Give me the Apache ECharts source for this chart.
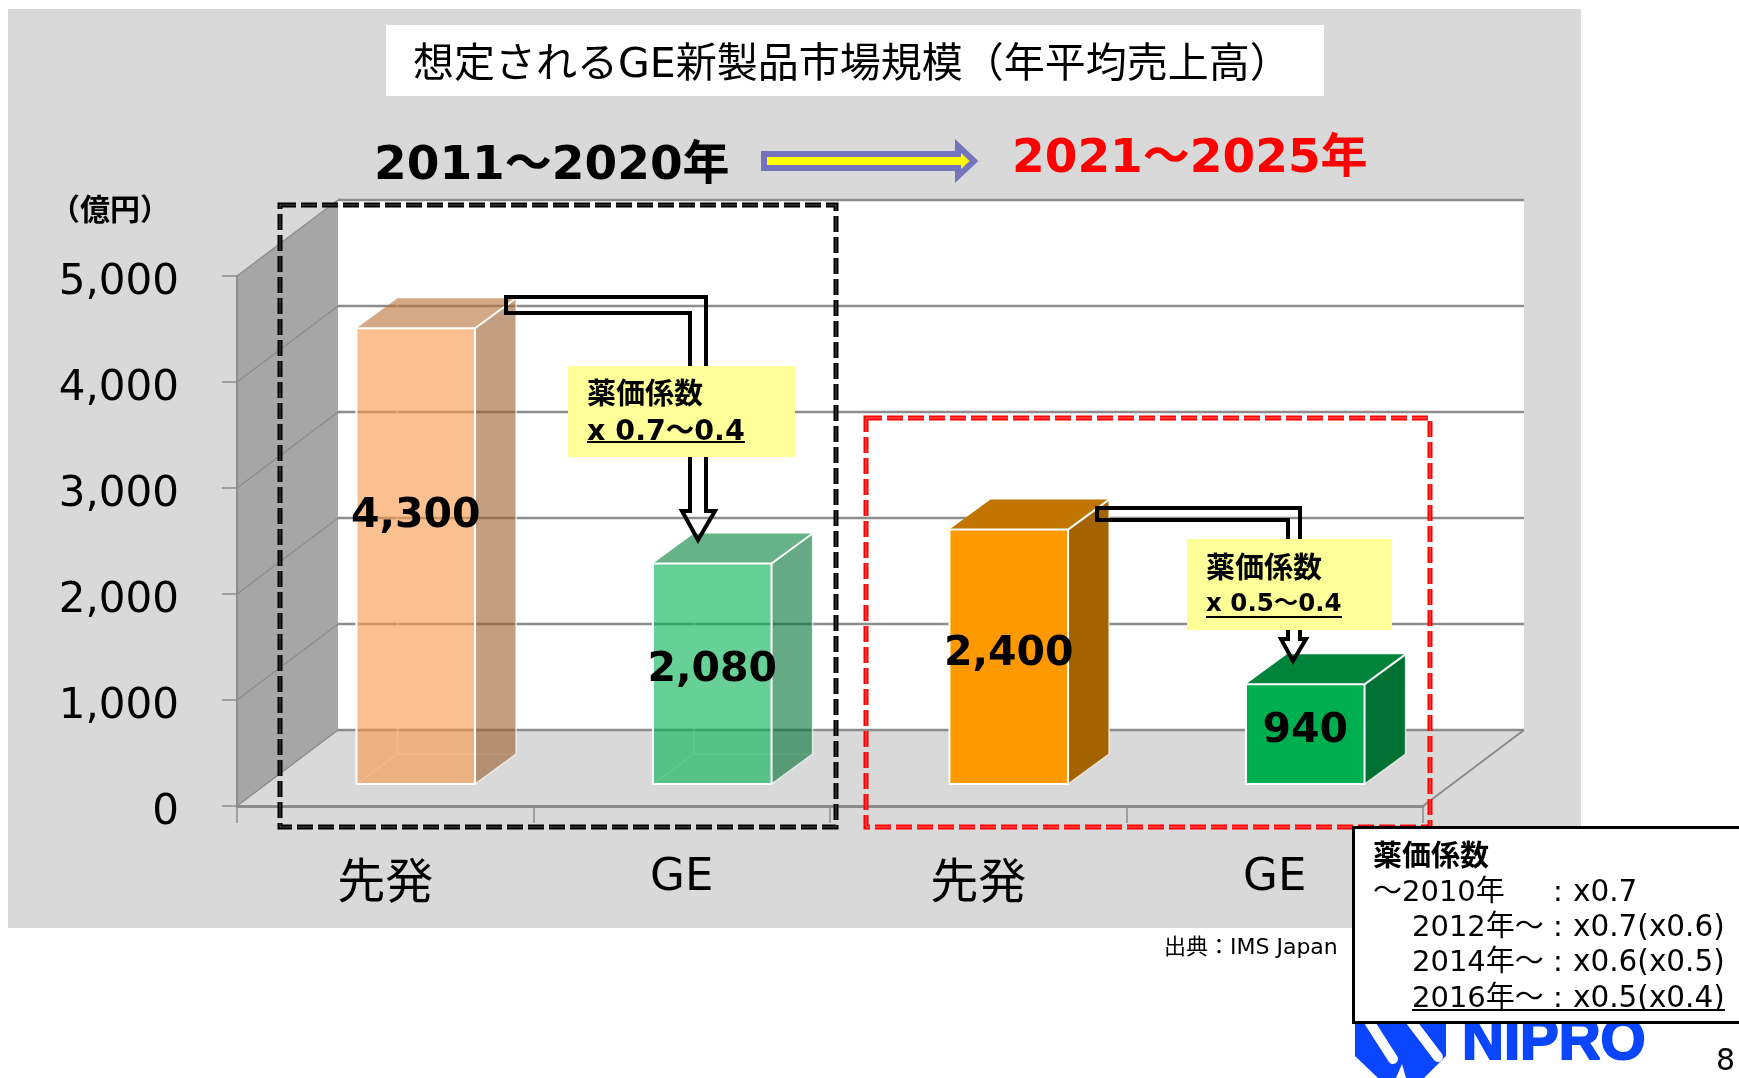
<!DOCTYPE html>
<html lang="ja">
<head>
<meta charset="utf-8">
<title>想定されるGE新製品市場規模</title>
<script src="https://cdn.jsdelivr.net/npm/echarts@6/dist/echarts.min.js"></script>
<style>html,body{margin:0;padding:0;background:#fff}#c{width:1739px;height:1078px}</style>
</head>
<body>
<div id="c"></div>
<script>
const categories = ['先発', 'GE', '先発', 'GE'];
const values = [4300, 2080, 2400, 940];
const yTicks = [0, 1000, 2000, 3000, 4000, 5000];
const frontColors = ['rgba(247,150,70,0.6)', 'rgba(0,176,80,0.6)', '#FF9900', '#00B050'];
const topColors = ['rgba(185,112,52,0.6)', 'rgba(0,128,60,0.6)', '#C27400', '#00843C'];
const sideColors = ['rgba(155,94,44,0.6)', 'rgba(0,112,51,0.6)', '#A36300', '#007033'];
const labelLift = [45, 8, 7, 8];
const coefLabels = ['〜2010年', '2012年〜', '2014年〜', '2016年〜'];
const coefValues = ['x0.7', 'x0.7(x0.6)', 'x0.6(x0.5)', 'x0.5(x0.4)'];

const FF = '"DejaVu Sans","Noto Sans CJK JP",sans-serif';
const GRID_L = 237, GRID_T = 276, GRID_W = 1186, GRID_H = 530;
const WALL_DX = 101, WALL_DY = 76;      // depth of the 3D box
const BAR_DX = 41, BAR_DY = 30;         // depth of a 3D bar
const BAR_SHIFT_X = 30.5, BAR_SHIFT_Y = 22; // bars stand inside the floor
const LINE = '#8c8c8c';

function poly(points, style, z2) { return { type: 'polygon', shape: { points }, style, z2: z2 || 0 }; }
function seg(a, b, stroke, lineWidth, z2) {
  return { type: 'line', shape: { x1: a[0], y1: a[1], x2: b[0], y2: b[1] }, style: { stroke, lineWidth }, z2: z2 || 0 };
}

function renderBox(params, api) {
  const o = api.coord([0, 0]);
  const s = api.size([1, 0])[0];
  const x0 = o[0] - s / 2, x1 = x0 + s * categories.length, y0 = o[1];
  const yT = api.coord([0, yTicks[yTicks.length - 1]])[1];
  const ch = [
    poly([[x0 + WALL_DX, yT - WALL_DY], [x1 + WALL_DX, yT - WALL_DY], [x1 + WALL_DX, y0 - WALL_DY], [x0 + WALL_DX, y0 - WALL_DY]], { fill: '#ffffff' }),
    poly([[x0, y0], [x0 + WALL_DX, y0 - WALL_DY], [x0 + WALL_DX, yT - WALL_DY], [x0, yT]], { fill: '#a6a6a6' }),
    seg([x1, y0], [x1 + WALL_DX, y0 - WALL_DY], LINE, 2)
  ];
  yTicks.forEach(v => {
    const y = api.coord([0, v])[1];
    ch.push(seg([x0, y], [x0 + WALL_DX, y - WALL_DY], LINE, 1.5));
    ch.push(seg([x0 + WALL_DX, y - WALL_DY], [x1 + WALL_DX, y - WALL_DY], LINE, 2.5));
  });
  return { type: 'group', children: ch };
}

function renderBar(params, api) {
  const i = api.value(0), v = api.value(1);
  const c = api.coord([i, 0]);
  const w = api.size([1, 0])[0] * 0.4;
  const l = c[0] + BAR_SHIFT_X - w / 2, r = l + w;
  const b = c[1] - BAR_SHIFT_Y;
  const t = api.coord([i, v])[1] - BAR_SHIFT_Y;
  const edge = { stroke: '#ffffff', lineWidth: 2, lineJoin: 'round' };
  const ch = [];
  if (i < 2) {
    // hidden edges behind the translucent faces
    const ghost = 'rgba(255,255,255,0.55)';
    ch.push(seg([l + BAR_DX, b - BAR_DY], [l + BAR_DX, t - BAR_DY], ghost, 1.5, 0));
    ch.push(seg([l + BAR_DX, b - BAR_DY], [r + BAR_DX, b - BAR_DY], ghost, 1.5, 0));
    ch.push(seg([l, b], [l + BAR_DX, b - BAR_DY], ghost, 1.5, 0));
  }
  ch.push(poly([[l, t], [r, t], [r + BAR_DX, t - BAR_DY], [l + BAR_DX, t - BAR_DY]], { fill: topColors[i] }, 1));
  ch.push(seg([r, t], [r + BAR_DX, t - BAR_DY], '#ffffff', 2, 3));
  ch.push(poly([[r, t], [r + BAR_DX, t - BAR_DY], [r + BAR_DX, b - BAR_DY], [r, b]], { fill: sideColors[i] }, 1));
  ch.push(seg([r + BAR_DX, t - BAR_DY], [r + BAR_DX, b - BAR_DY], 'rgba(255,255,255,0.7)', 1.5, 3));
  ch.push(seg([r + BAR_DX, b - BAR_DY], [r, b], 'rgba(255,255,255,0.7)', 1.5, 3));
  ch.push(poly([[l, t], [r, t], [r, b], [l, b]], Object.assign({ fill: frontColors[i] }, edge), 2));
  ch.push({
    type: 'text', z2: 6,
    style: {
      text: v.toLocaleString('en-US'), x: (l + r) / 2, y: (t + b) / 2 - labelLift[i] + 5,
      fill: '#000', font: 'bold 41px ' + FF, textAlign: 'center', textVerticalAlign: 'middle'
    }
  });
  return { type: 'group', children: ch };
}

function txt(text, x, y, size, opts) {
  opts = opts || {};
  return {
    type: 'text', z: 20,
    style: {
      text, x, y, fill: opts.fill || '#000',
      font: (opts.bold ? 'bold ' : '') + size + 'px ' + FF,
      textAlign: opts.align || 'left', textVerticalAlign: 'middle'
    }
  };
}
function rect(x, y, w, h, fill, z, stroke, lineWidth) {
  return { type: 'rect', z, shape: { x, y, width: w, height: h }, style: { fill, stroke: stroke || null, lineWidth: lineWidth || 0 } };
}
function hline(x1, x2, y, stroke, lineWidth, z) {
  return { type: 'line', z, shape: { x1, y1: y, x2, y2: y }, style: { stroke, lineWidth } };
}
function dashedBox(x, y, w, h, color, core) {
  return [
    { type: 'rect', z: 12, shape: { x, y, width: w, height: h }, style: { fill: null, stroke: color, lineWidth: 5, lineDash: [16, 5] } },
    { type: 'rect', z: 12, shape: { x, y, width: w, height: h }, style: { fill: null, stroke: core, lineWidth: 1, lineDash: [16, 5] } }
  ];
}
function hollowArrow(points) {
  return { type: 'polygon', z: 13, shape: { points }, style: { fill: null, stroke: '#000', lineWidth: 4, lineJoin: 'miter' } };
}

const decor = [
  rect(8, 9, 1573, 919, '#d9d9d9', -10),
  rect(386, 25, 938, 71, '#fff', 1),
  txt('想定されるGE新製品市場規模（年平均売上高）', 413, 66, 41),
  txt('2011〜2020年', 374, 167, 47, { bold: true }),
  txt('2021〜2025年', 1012, 160, 47, { bold: true, fill: '#ff0000' }),
  { type: 'polygon', z: 13, shape: { points: [[764, 154], [958, 154], [958, 146], [974, 161], [958, 176], [958, 168], [764, 168]] },
    style: { fill: '#ffff00', stroke: '#7373be', lineWidth: 6, lineJoin: 'miter' } },
  txt('（億円）', 110, 212, 30, { bold: true, align: 'center' }),

  ...dashedBox(280, 205, 556, 622, '#000', 'rgba(255,255,255,0.3)'),
  ...dashedBox(866, 418, 564, 409, '#ff0000', 'rgba(255,255,255,0.4)'),

  hollowArrow([[506, 297], [706, 297], [706, 511], [715, 511], [698, 540], [682, 511], [690, 511], [690, 313], [506, 313]]),
  hollowArrow([[1097, 508], [1300, 508], [1300, 639], [1306, 639], [1293, 661], [1281, 639], [1288, 639], [1288, 520], [1097, 520]]),

  rect(568, 366, 227, 91, '#ffff99', 14),
  txt('薬価係数', 587, 396, 29, { bold: true }),
  txt('x 0.7〜0.4', 587, 433, 28.5, { bold: true }),
  hline(587, 745, 442, '#000', 2, 21),
  rect(1187, 539, 205, 91, '#ffff99', 14),
  txt('薬価係数', 1206, 570, 29, { bold: true }),
  txt('x 0.5〜0.4', 1206, 605, 24.5, { bold: true }),
  hline(1206, 1342, 617, '#000', 2, 21),

  txt('出典：IMS Japan', 1164, 948, 22),

  // logo, partly hidden by the table box
  { type: 'polygon', z: 5, shape: { points: [[1355, 1015], [1446, 1015], [1446, 1056], [1424, 1078], [1406, 1078], [1402, 1064], [1396, 1078], [1378, 1078], [1355, 1056]] }, style: { fill: '#0a46ff' } },
  { type: 'line', z: 6, shape: { x1: 1368, y1: 1020, x2: 1393, y2: 1059 }, style: { stroke: '#fff', lineWidth: 10, lineCap: 'round' } },
  { type: 'line', z: 6, shape: { x1: 1410, y1: 1020, x2: 1438, y2: 1057 }, style: { stroke: '#fff', lineWidth: 10, lineCap: 'round' } },
  { type: 'text', z: 5, style: { text: 'NIPRO', x: 1462, y: 1072, fill: '#0a46ff', stroke: '#0a46ff', lineWidth: 2, font: 'bold 58px "Liberation Sans",sans-serif', textAlign: 'left', textVerticalAlign: 'bottom' } },
  txt('8', 1716, 1062, 30),

  rect(1353.5, 827.5, 420, 195, '#fff', 15, '#000', 3),
  txt('薬価係数', 1373, 858, 29, { bold: true }),
  hline(1412, 1725, 1010, '#000', 2, 21)
];
const coefY = [893, 928, 963, 999];
coefLabels.forEach((label, i) => {
  decor.push(txt(label, i === 0 ? 1373 : 1412, coefY[i], 29));
  decor.push(txt(':', 1553, coefY[i], 29));
  decor.push(txt(coefValues[i], 1573, coefY[i], 29.5));
});

const chart = echarts.init(document.getElementById('c'), null, { renderer: 'canvas' });
chart.setOption({
  animation: false,
  backgroundColor: '#ffffff',
  grid: { left: GRID_L, top: GRID_T, width: GRID_W, height: GRID_H, show: false },
  xAxis: {
    type: 'category',
    data: categories.map(c => ({ value: c, textStyle: c === 'GE' ? { fontSize: 45 } : { fontSize: 48, padding: [6, 0, 0, 0] } })),
    boundaryGap: true,
    axisLine: { lineStyle: { color: LINE, width: 3 } },
    axisTick: { show: true, alignWithLabel: false, interval: 0, length: 17, lineStyle: { color: LINE, width: 1.5 } },
    axisLabel: { color: '#000', fontFamily: FF, margin: 50, interval: 0 }
  },
  yAxis: {
    type: 'value', min: 0, max: 5000, interval: 1000,
    axisLine: { show: true, lineStyle: { color: LINE, width: 2 } },
    axisTick: { show: true, length: 15, lineStyle: { color: LINE, width: 1.5 } },
    axisLabel: { color: '#000', fontSize: 42, fontFamily: FF, margin: 58, verticalAlign: 'top', lineHeight: 15,
      formatter: v => v.toLocaleString('en-US') },
    splitLine: { show: false }
  },
  graphic: { elements: decor },
  series: [
    { type: 'custom', name: 'box', z: -5, silent: true, data: [[0, 0]], encode: { x: 0, y: 1 }, renderItem: renderBox, clip: false },
    { type: 'custom', name: 'values', z: 2, data: values.map((v, i) => [i, v]), encode: { x: 0, y: 1 }, renderItem: renderBar, clip: false }
  ]
});
</script>
</body>
</html>
